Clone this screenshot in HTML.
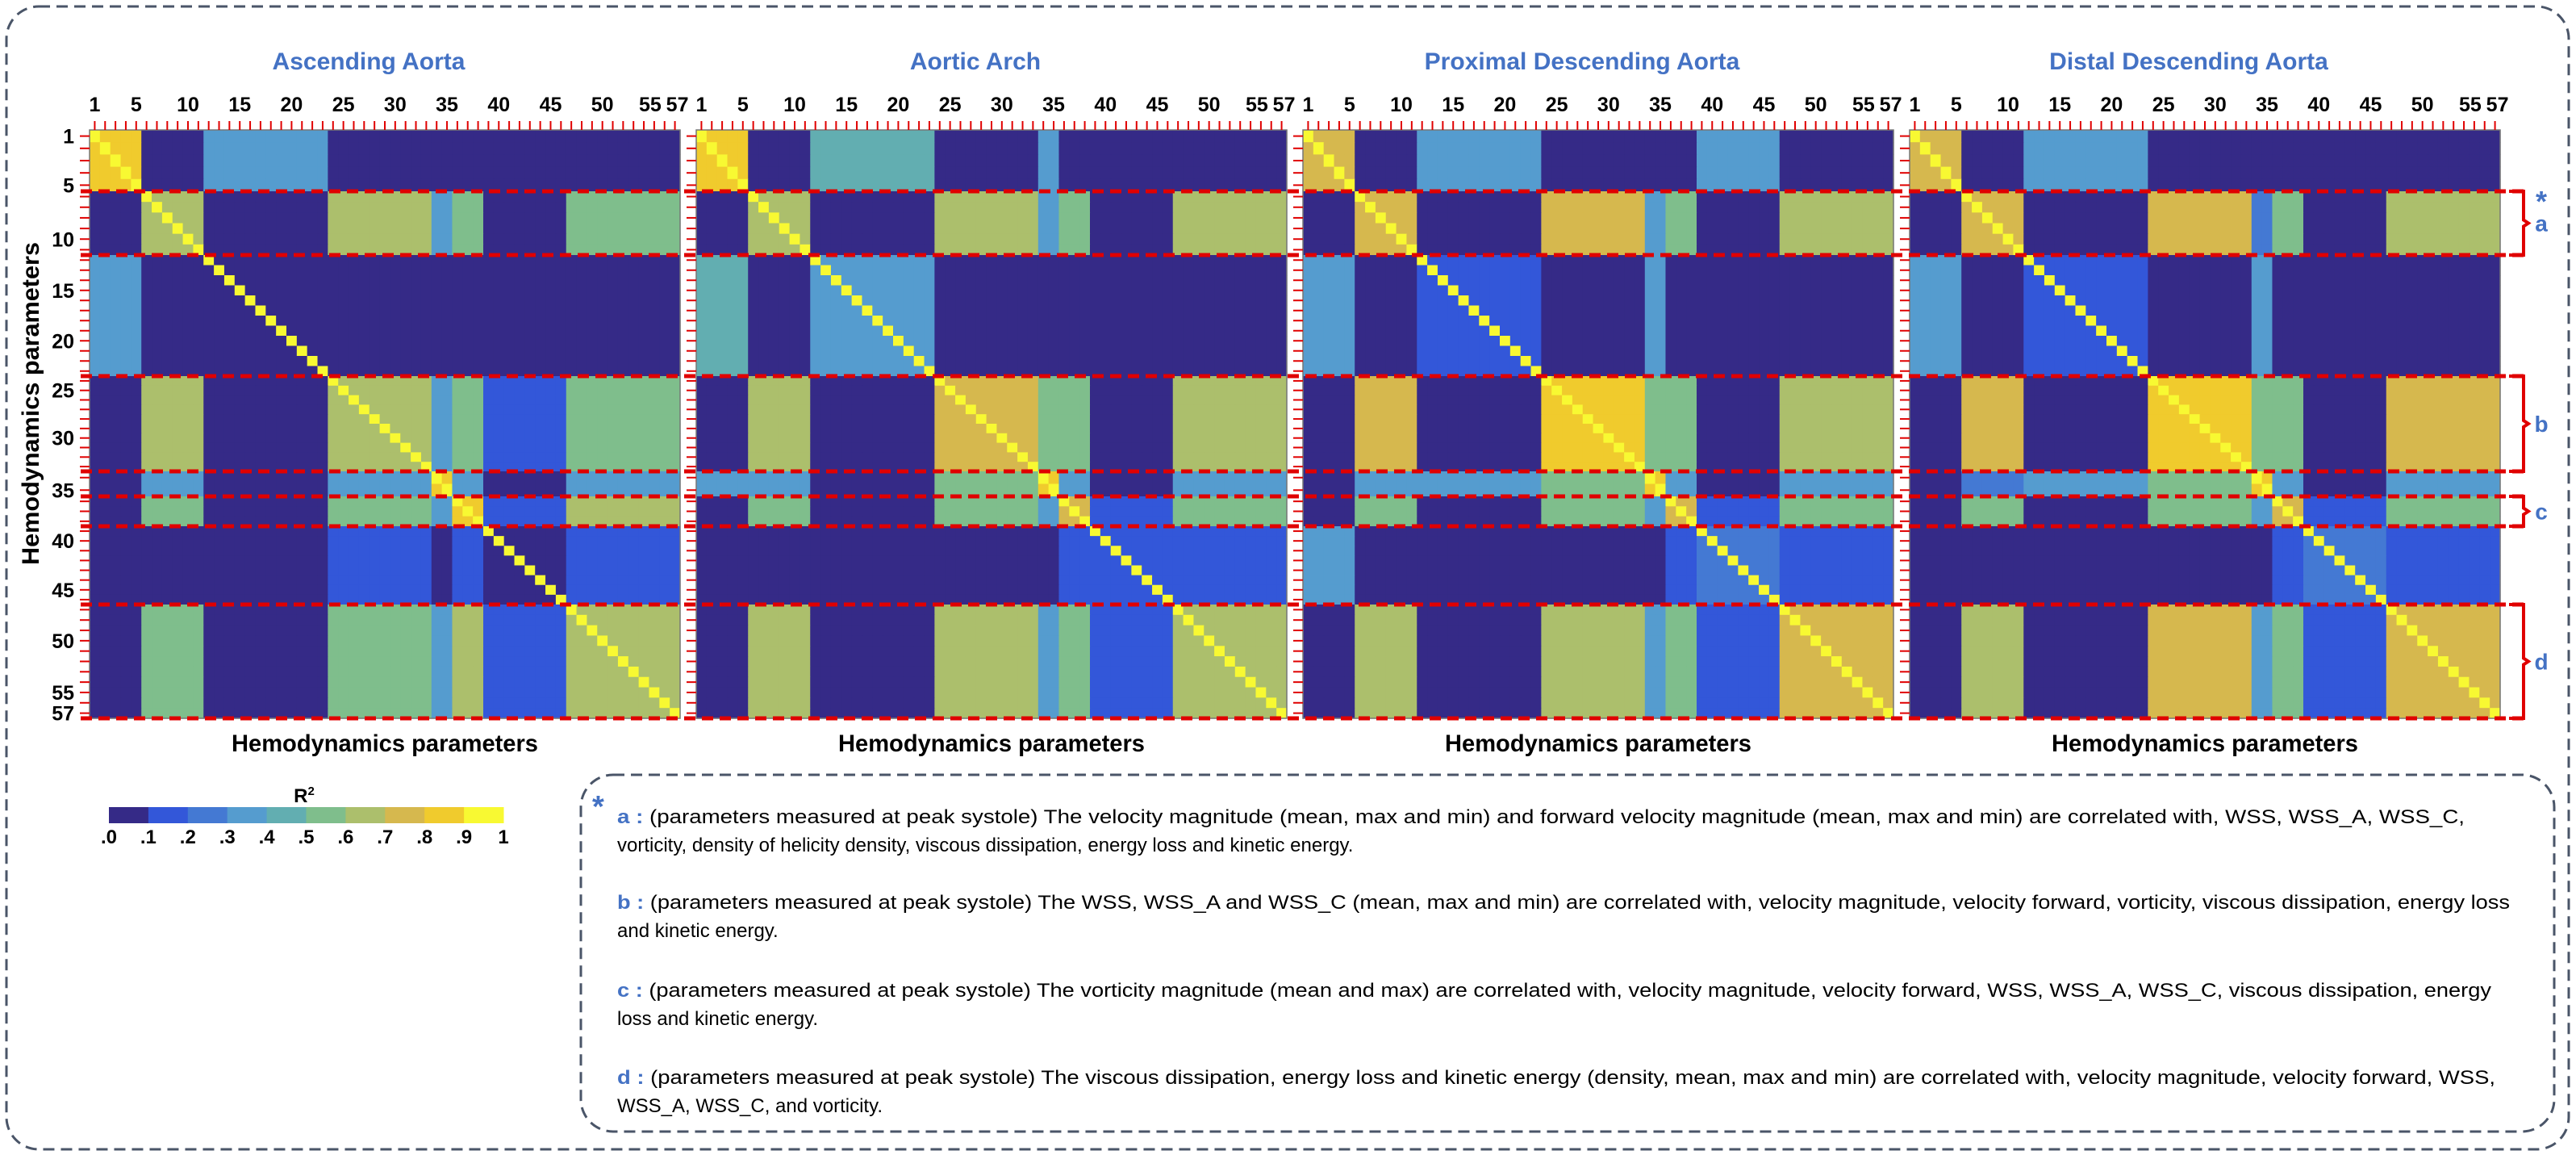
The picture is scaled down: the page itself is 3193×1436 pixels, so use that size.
<!DOCTYPE html>
<html><head><meta charset="utf-8"><title>Hemodynamics R2 heatmaps</title>
<style>
html,body{margin:0;padding:0;background:#fff;}
svg{display:block;font-family:"Liberation Sans",sans-serif;}
</style></head>
<body>
<svg id="fig" width="3193" height="1436" viewBox="0 0 3193 1436" xmlns="http://www.w3.org/2000/svg">
<rect x="8" y="8" width="3176" height="1416" rx="40" fill="none" stroke="#4a5568" stroke-width="3" stroke-dasharray="14 8"/>
<g id="panels"></g>
<g id="overlay"></g>
<text transform="translate(48,500) rotate(-90)" text-anchor="middle" font-size="30" font-weight="bold" textLength="400" lengthAdjust="spacingAndGlyphs">Hemodynamics parameters</text>

<g id="legend">
<text x="377" y="994" text-anchor="middle" font-size="24" font-weight="bold">R<tspan font-size="15" dy="-9">2</tspan></text>
</g>

<g>
<rect x="720" y="960" width="2446" height="442" rx="40" fill="none" stroke="#4a5568" stroke-width="3" stroke-dasharray="14 8"/>
<text x="734" y="1012" font-size="38" font-weight="bold" fill="#4472c4">*</text>
<g font-size="24" fill="#000">
<text x="765" y="1020" textLength="2290" lengthAdjust="spacingAndGlyphs"><tspan fill="#4472c4" font-weight="bold">a : </tspan>(parameters measured at peak systole) The velocity magnitude (mean, max and min) and forward velocity magnitude (mean, max and min) are correlated with, WSS, WSS_A, WSS_C,</text>
<text x="765" y="1055">vorticity, density of helicity density, viscous dissipation, energy loss and kinetic energy.</text>
<text x="765" y="1126" textLength="2346" lengthAdjust="spacingAndGlyphs"><tspan fill="#4472c4" font-weight="bold">b : </tspan>(parameters measured at peak systole) The WSS, WSS_A and WSS_C (mean, max and min) are correlated with, velocity magnitude, velocity forward, vorticity, viscous dissipation, energy loss</text>
<text x="765" y="1161">and kinetic energy.</text>
<text x="765" y="1235" textLength="2323" lengthAdjust="spacingAndGlyphs"><tspan fill="#4472c4" font-weight="bold">c : </tspan>(parameters measured at peak systole) The vorticity magnitude (mean and max) are correlated with, velocity magnitude, velocity forward, WSS, WSS_A, WSS_C, viscous dissipation, energy</text>
<text x="765" y="1270">loss and kinetic energy.</text>
<text x="765" y="1343" textLength="2328" lengthAdjust="spacingAndGlyphs"><tspan fill="#4472c4" font-weight="bold">d : </tspan>(parameters measured at peak systole) The viscous dissipation, energy loss and kinetic energy (density, mean, max and min) are correlated with, velocity magnitude, velocity forward, WSS,</text>
<text x="765" y="1378">WSS_A, WSS_C, and vorticity.</text>
</g>
</g>
</svg>
<script>
// ---- data ----
const panelTitles = ["Ascending Aorta","Aortic Arch","Proximal Descending Aorta","Distal Descending Aorta"];
const groupSizes = [5,6,12,10,2,3,8,11];
const tickLabels = [1,5,10,15,20,25,30,35,40,45,50,55,57];
const legendLabels = [".0",".1",".2",".3",".4",".5",".6",".7",".8",".9","1"];
const binColors = ["#352a87","#3357d9","#4479d3","#559ccf","#62aeb1","#7fbe8c","#acbf6c","#d6b84e","#f0cb2d","#f8f932"];
const ascendingR2 = [
 [0.8,0,0.3,0,0,0,0.05,0.05],
 [0,0.6,0.05,0.6,0.3,0.55,0.05,0.55],
 [0.3,0.05,0.05,0.05,0.05,0.05,0.05,0.05],
 [0,0.6,0.05,0.65,0.3,0.55,0.1,0.5],
 [0,0.3,0.05,0.3,0.8,0.3,0.05,0.3],
 [0,0.55,0.05,0.55,0.3,0.8,0.1,0.6],
 [0.05,0.05,0.05,0.1,0.05,0.1,0.05,0.1],
 [0.05,0.55,0.05,0.5,0.3,0.6,0.1,0.65]];
const archR2 = [
 [0.8,0,0.4,0,0.3,0,0.05,0.05],
 [0,0.6,0.05,0.6,0.3,0.5,0.05,0.6],
 [0.4,0.05,0.3,0.05,0.05,0.05,0.05,0.05],
 [0,0.6,0.05,0.7,0.5,0.5,0.05,0.6],
 [0.3,0.3,0.05,0.5,0.8,0.3,0.05,0.3],
 [0,0.5,0.05,0.5,0.3,0.7,0.1,0.5],
 [0.05,0.05,0.05,0.05,0.05,0.1,0.1,0.1],
 [0.05,0.6,0.05,0.6,0.3,0.5,0.1,0.65]];
const proximalR2 = [
 [0.7,0,0.3,0,0,0,0.3,0.05],
 [0,0.7,0.05,0.75,0.3,0.5,0.05,0.65],
 [0.3,0.05,0.1,0.05,0.3,0.05,0.05,0.05],
 [0,0.75,0.05,0.8,0.5,0.5,0.05,0.65],
 [0,0.3,0.3,0.5,0.8,0.3,0.05,0.3],
 [0,0.5,0.05,0.5,0.3,0.7,0.1,0.5],
 [0.3,0.05,0.05,0.05,0.05,0.1,0.2,0.1],
 [0.05,0.65,0.05,0.65,0.3,0.5,0.1,0.7]];
const distalR2 = [
 [0.7,0,0.3,0,0,0,0.05,0.05],
 [0,0.7,0.05,0.75,0.2,0.5,0.05,0.6],
 [0.3,0.05,0.1,0.05,0.3,0.05,0.05,0.05],
 [0,0.75,0.05,0.8,0.5,0.5,0.05,0.7],
 [0,0.2,0.3,0.5,0.8,0.3,0.05,0.3],
 [0,0.5,0.05,0.5,0.3,0.7,0.1,0.5],
 [0.05,0.05,0.05,0.05,0.05,0.1,0.2,0.1],
 [0.05,0.6,0.05,0.7,0.3,0.5,0.1,0.7]];
const panelMatrices = [ascendingR2, archR2, proximalR2, distalR2];
const bracketLabels = ["a","b","c","d"];
const bracketGroups = [1,3,5,7];

// ---- layout ----
const NS = "http://www.w3.org/2000/svg";
const N = 57, PANEL_W = 732, PANEL_GAP = 20, LEFT0 = 111;
const groupEdgesY = [161,237,316,466,584,615,652,749,890];
const cellW = PANEL_W / N;
function mk(tag, attrs, parent){const e=document.createElementNS(NS,tag);for(const k in attrs)e.setAttribute(k,attrs[k]);parent.appendChild(e);return e;}
const groupOf = [];
groupSizes.forEach((s,g)=>{for(let i=0;i<s;i++)groupOf.push(g);});
const groupStart = [];{let c=0;groupSizes.forEach(s=>{groupStart.push(c);c+=s;});}
function rowTop(i){const g=groupOf[i];const h=(groupEdgesY[g+1]-groupEdgesY[g])/groupSizes[g];return groupEdgesY[g]+(i-groupStart[g])*h;}
function rowH(i){const g=groupOf[i];return (groupEdgesY[g+1]-groupEdgesY[g])/groupSizes[g];}
function xScale(p,j){return LEFT0+p*(PANEL_W+PANEL_GAP)+j*cellW;}
function colorFor(v){let b=Math.floor(v*10+1e-9);if(b>9)b=9;if(b<0)b=0;return binColors[b];}

const panelsG = document.getElementById("panels");
panelMatrices.forEach((M,p)=>{
  const g = mk("g",{},panelsG);
  
  
  const x0 = xScale(p,0);
  const t = mk("text",{x:x0+PANEL_W/2-20,y:86,"text-anchor":"middle","font-size":30,"font-weight":"bold",fill:"#4472c4"},g);
  t.textContent = panelTitles[p];
  
  
  for(let i=0;i<N;i++){for(let j=0;j<N;j++){
    const v = (i===j)?1:M[groupOf[i]][groupOf[j]];
    const r = mk("rect",{x:xScale(p,j).toFixed(2),y:rowTop(i).toFixed(2),width:(cellW+0.6).toFixed(2),height:(rowH(i)+0.6).toFixed(2),fill:colorFor(v)},g);
    
    
  }}
  mk("rect",{x:x0,y:161,width:PANEL_W,height:729,fill:"none",stroke:"#777","stroke-width":1.5},g);
  for(let j=0;j<N;j++){
    const cx = xScale(p,j)+cellW/2;
    mk("line",{x1:cx,x2:cx,y1:150,y2:161,stroke:"#e00000","stroke-width":2},g);
  }
  for(let i=0;i<N;i++){
    const cy = rowTop(i)+rowH(i)/2;
    mk("line",{x1:x0-12,x2:x0,y1:cy,y2:cy,stroke:"#e00000","stroke-width":2},g);
  }
  tickLabels.forEach(lbl=>{
    const cx = xScale(p,lbl-1)+cellW/2;
    const tl = mk("text",{x:cx+(lbl===55?-5:(lbl===57?3:0)),y:138,"text-anchor":"middle","font-size":25,"font-weight":"bold"},g);
    tl.textContent = lbl;
    
    
  });
  if(p===0){
    tickLabels.forEach(lbl=>{
      const cy = rowTop(lbl-1)+rowH(lbl-1)/2;
      const tl = mk("text",{x:92,y:cy+9,"text-anchor":"end","font-size":25,"font-weight":"bold"},g);
      tl.textContent = lbl;
      
      
    });
  }
  const xt = mk("text",{x:x0+PANEL_W/2,y:931,"text-anchor":"middle","font-size":30,"font-weight":"bold",textLength:380,lengthAdjust:"spacingAndGlyphs"},g);
  xt.textContent = "Hemodynamics parameters";
  
  
});

const ov = document.getElementById("overlay");
for(let k=1;k<groupEdgesY.length;k++){
  const y = groupEdgesY[k];
  const l = mk("line",{x1:100,x2:3128,y1:y,y2:y,stroke:"#e00000","stroke-width":5,"stroke-dasharray":"14 8"},ov);
  
  
}
bracketGroups.forEach((g,k)=>{
  const y1 = groupEdgesY[g], y2 = groupEdgesY[g+1], ym=(y1+y2)/2;
  const b = mk("path",{d:`M3110 ${y1} H3128 V${ym-4} L3134 ${ym} L3128 ${ym+4} V${y2} H3110`,fill:"none",stroke:"#e00000","stroke-width":4},ov);
  
  
  const t = mk("text",{x:3150,y:ym+10,"text-anchor":"middle","font-size":28,"font-weight":"bold",fill:"#4472c4"},ov);
  t.textContent = bracketLabels[k];
  
  
});
const st = mk("text",{x:3150,y:262,"text-anchor":"middle","font-size":36,"font-weight":"bold",fill:"#4472c4"},ov);
st.textContent = "*";



const lg = document.getElementById("legend");
const LX0 = 135, LX1 = 624, segW = (LX1-LX0)/binColors.length;
binColors.forEach((c,i)=>{
  const r = mk("rect",{x:LX0+i*segW,y:1000,width:segW+0.5,height:20,fill:c},lg);
  
  
});
legendLabels.forEach((s,i)=>{
  const t = mk("text",{x:LX0+i*segW,y:1045,"text-anchor":"middle","font-size":24,"font-weight":"bold"},lg);
  t.textContent = s;
  
  
});
</script>
</body></html>
